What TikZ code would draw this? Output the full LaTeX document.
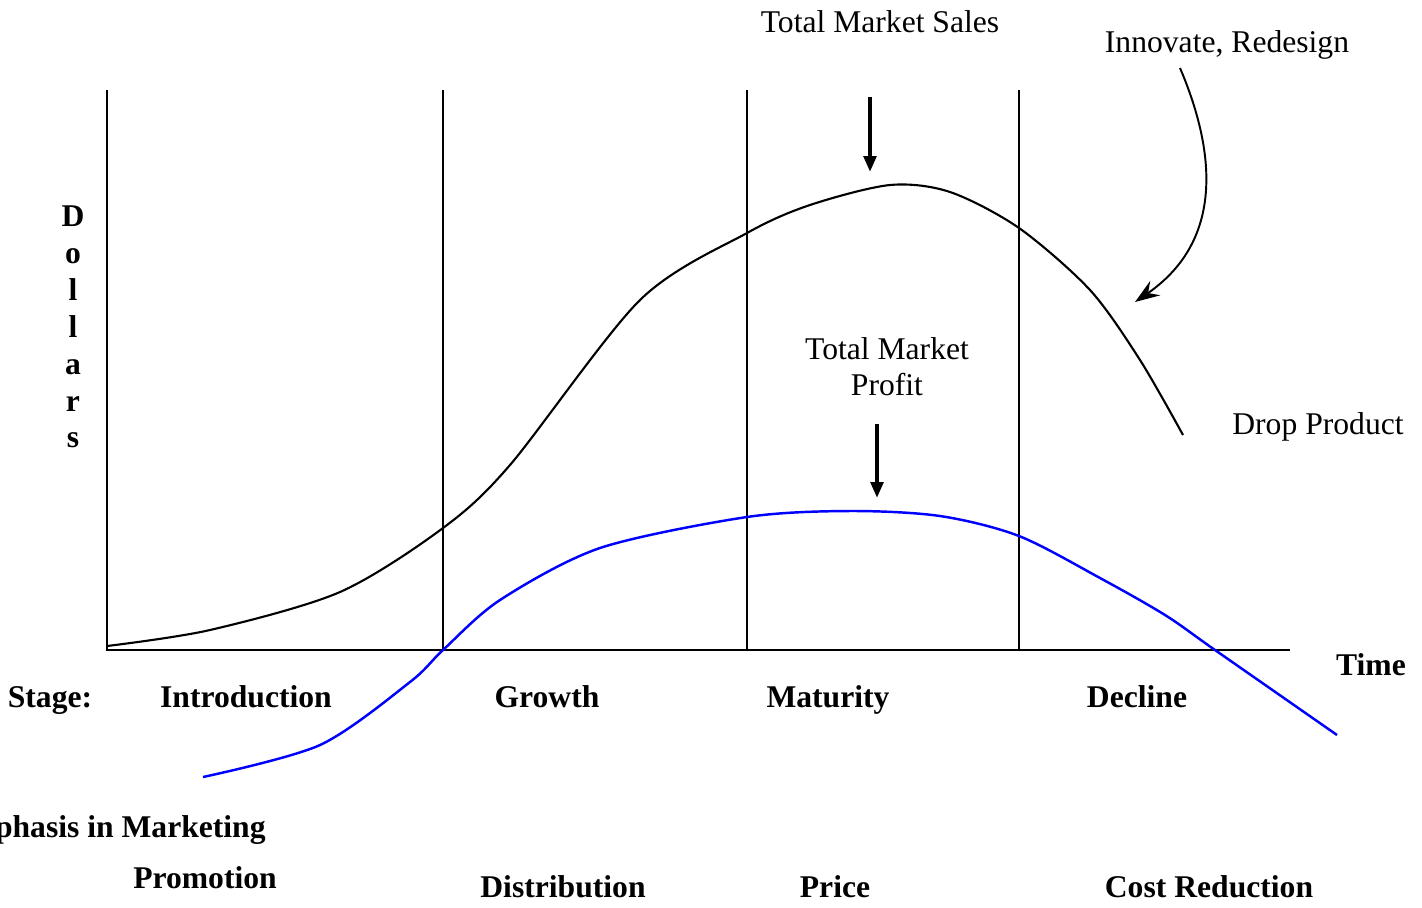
\documentclass[tikz,border=0pt]{standalone}
\usepackage{fontspec}
\setmainfont{Liberation Serif}
\usetikzlibrary{arrows.meta,positioning}

\begin{document}
\begin{tikzpicture}[
  x=0.02cm, y=-0.02cm,
  axis/.style={line width=1.2pt, black},
  sales/.style={line width=1.2pt, black},
  profit/.style={line width=1.4pt, blue},
  lbl/.style={font=\fontsize{18}{20.5}\selectfont, align=center, inner sep=0pt},
  blbl/.style={font=\fontsize{18}{20.5}\selectfont\bfseries, inner sep=0pt,
               text height=0.68em, text depth=0pt, yshift=-0.1cm},
  arr/.style={-{Triangle[length=9pt,width=7pt]}, line width=2.3pt},
  curvearr/.style={-{Stealth[length=14pt,width=10pt,inset=5pt]}, line width=1.1pt}
]
\useasboundingbox (0,0) rectangle (1422,907);
% axes and stage dividers
\coordinate (o) at (107,650);
\coordinate (ytop) at (107,90);
\coordinate (xend) at (1290,650);
\draw[axis] (ytop) -- (o) -- (xend);
\foreach \sx in {443,747,1019}
  \draw[axis] (\sx,90) -- (\sx,650);
% curves
\draw[sales] plot[smooth, tension=0.5] coordinates {
  (107,646) (210,630) (340,592) (443,528) (510,465) (640,300)
  (747,233) (810,205) (890,185) (950,192) (1019,228) (1090,290)
  (1140,360) (1183,435)};
\draw[profit] plot[smooth, tension=0.5] coordinates {
  (203,777) (320,745) (410,682) (443,650) (500,600) (600,548)
  (747,517) (850,511) (940,516) (1019,536) (1100,578) (1165,615)
  (1215,650) (1337,735)};
% labels
\node[lbl] (sales) at (880,22) {Total Market Sales};
\node[lbl] (innov) at (1227,45) {Innovate, Redesign};
\node[lbl] (profit) at (887,367) {Total Market\\Profit};
\node[lbl] (drop) at (1318,427) {Drop Product};
\node[lbl, font=\fontsize{18}{21}\selectfont\bfseries] (dollars) at (73,327)
  {D\\o\\l\\l\\a\\r\\s};
\node[blbl] (time) at (1371,665) {Time};
\node[blbl] (stage) at (50,697) {Stage:};
\node[blbl] (intro) at (246,697) {Introduction};
\node[blbl] (growth) at (547,697) {Growth};
\node[blbl] (mature) at (828,697) {Maturity};
\node[blbl] (decline) at (1137,697) {Decline};
\node[blbl, anchor=east] (emph) at (266,827) {Emphasis in Marketing};
\node[blbl] (promo) at (205,878) {Promotion};
\node[blbl] (distr) at (563,887) {Distribution};
\node[blbl] (price) at (835,887) {Price};
\node[blbl] (cost) at (1209,887) {Cost Reduction};
% pointers
\coordinate (s1) at (870,97);  \coordinate (s2) at (870,172);
\coordinate (p1) at (877,424); \coordinate (p2) at (877,498);
\coordinate (i1) at (1180,68); \coordinate (i2) at (1135,302);
\draw[arr] (s1) -- (s2);
\draw[arr] (p1) -- (p2);
\draw[curvearr] (i1) .. controls (1215,150) and (1225,240) .. (i2);
\end{tikzpicture}
\end{document}
